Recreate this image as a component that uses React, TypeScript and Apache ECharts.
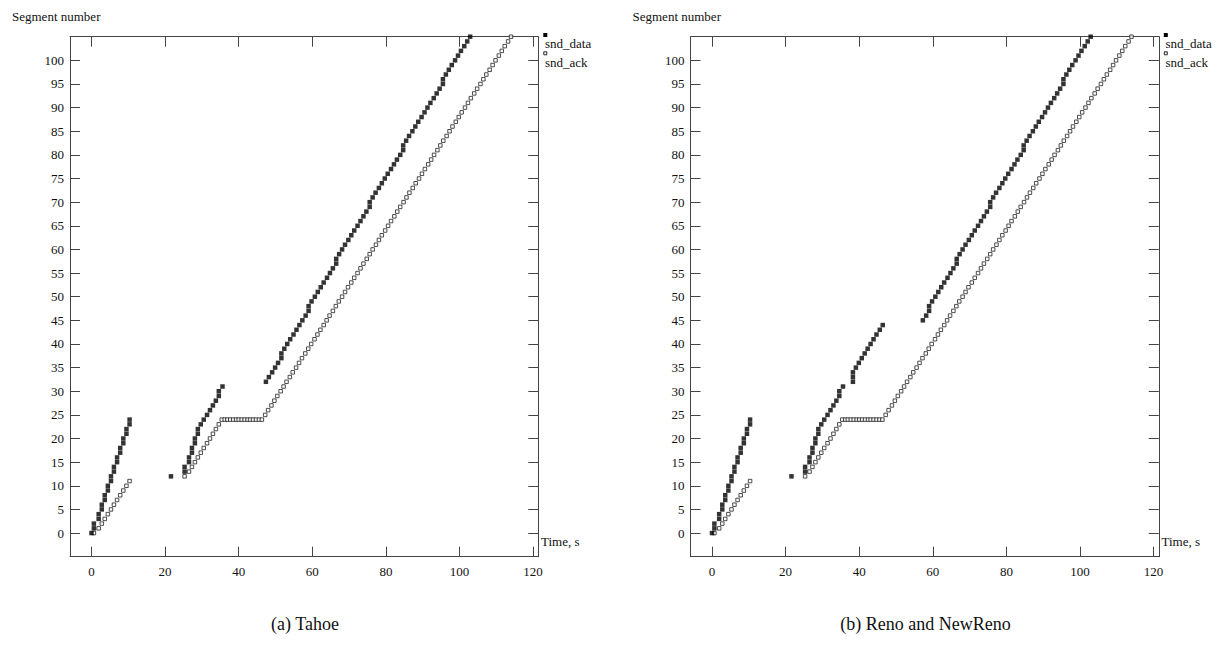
import React, { useEffect, useRef } from "react";
import * as echarts from "echarts";

// ---------- data ----------
const X_TICKS = [0, 20, 40, 60, 80, 100, 120];
const Y_TICKS = [0, 5, 10, 15, 20, 25, 30, 35, 40, 45, 50, 55, 60, 65, 70, 75, 80, 85, 90, 95, 100];

const PANEL_CAPTIONS = ["(a) Tahoe", "(b) Reno and NewReno"];
const SERIES_NAMES = ["snd_data", "snd_ack"];

// snd_data, common beginning (time s, segment)
const sndDataStart: [number, number][] = [
  [0, 0], [0.65, 1], [0.65, 2], [1.95, 3], [1.95, 4], [2.8, 5], [2.8, 6], [3.6, 7], [3.6, 8],
  [4.45, 9], [4.45, 10], [5.3, 11], [5.3, 12], [6.1, 13], [6.1, 14], [6.95, 15], [6.95, 16],
  [7.8, 17], [7.8, 18], [8.65, 19], [8.65, 20], [9.5, 21], [9.5, 22], [10.35, 23], [10.35, 24],
  [21.6, 12],
  [25.3, 13], [25.3, 14], [26.5, 15], [26.5, 16], [27.3, 17], [27.3, 18], [28.1, 19], [28.1, 20],
  [28.9, 21], [28.9, 22], [29.7, 23], [30.5, 24], [31.4, 25], [32.2, 26], [33.0, 27], [33.8, 28],
  [34.6, 29], [34.6, 30], [35.6, 31],
];

// Tahoe: segments 32..44 after the ack plateau
const tahoeDataMid: [number, number][] = [
  [47.4, 32], [48.2, 33], [49.1, 34], [49.9, 35], [50.7, 36], [51.6, 37], [51.6, 38], [52.4, 39],
  [53.2, 40], [54.0, 41], [54.9, 42], [55.7, 43], [56.5, 44],
];

// Reno / NewReno: segments 32..44 sent during the plateau
const renoDataMid: [number, number][] = [
  [38.3, 32], [38.3, 33], [38.3, 34], [39.1, 35], [39.9, 36], [40.7, 37], [41.5, 38], [42.3, 39],
  [43.1, 40], [43.9, 41], [44.7, 42], [45.6, 43], [46.4, 44],
];

// snd_data, common end (segments 45..105)
const sndDataEnd: [number, number][] = [
  [57.3, 45], [58.2, 46], [59.0, 47], [59.0, 48], [59.8, 49], [60.7, 50], [61.5, 51], [62.3, 52],
  [63.1, 53], [64.0, 54], [64.8, 55], [65.6, 56], [66.5, 57], [66.5, 58], [67.3, 59], [68.1, 60],
  [68.9, 61], [69.8, 62], [70.6, 63], [71.4, 64], [72.3, 65], [73.1, 66], [73.9, 67], [74.7, 68],
  [75.6, 69], [75.6, 70], [76.4, 71], [77.2, 72], [78.1, 73], [78.9, 74], [79.7, 75], [80.5, 76],
  [81.4, 77], [82.2, 78], [83.0, 79], [83.9, 80], [84.7, 81], [84.7, 82], [85.5, 83], [86.3, 84],
  [87.2, 85], [88.0, 86], [88.8, 87], [89.7, 88], [90.5, 89], [91.3, 90], [92.1, 91], [93.0, 92],
  [93.8, 93], [94.6, 94], [95.5, 95], [95.5, 96], [96.3, 97], [97.1, 98], [97.9, 99], [98.8, 100],
  [99.6, 101], [100.4, 102], [101.3, 103], [102.1, 104], [102.9, 105],
];

// snd_ack (same in both panels)
const sndAck: [number, number][] = [
  [0.65, 0], [1.95, 1], [2.8, 2], [3.6, 3], [4.45, 4], [5.3, 5], [6.1, 6], [6.95, 7], [7.8, 8],
  [8.65, 9], [9.5, 10], [10.35, 11],
  [25.3, 12], [26.5, 13], [27.3, 14], [28.1, 15], [28.9, 16], [29.7, 17], [30.5, 18], [31.4, 19],
  [32.2, 20], [33.0, 21], [33.8, 22], [34.6, 23], [35.4, 24],
  [36.2, 24], [36.9, 24], [37.7, 24], [38.5, 24], [39.3, 24], [40.0, 24], [40.8, 24], [41.6, 24],
  [42.4, 24], [43.1, 24], [43.9, 24], [44.7, 24], [45.5, 24], [46.3, 24],
  [47.2, 25], [48.0, 26], [48.9, 27], [49.7, 28], [50.5, 29], [51.4, 30], [52.2, 31], [53.0, 32],
  [53.9, 33], [54.7, 34], [55.6, 35], [56.4, 36], [57.2, 37], [58.1, 38], [58.9, 39], [59.7, 40],
  [60.6, 41], [61.4, 42], [62.2, 43], [63.1, 44], [63.9, 45], [64.7, 46], [65.6, 47], [66.4, 48],
  [67.2, 49], [68.1, 50], [68.9, 51], [69.7, 52], [70.6, 53], [71.4, 54], [72.3, 55], [73.1, 56],
  [73.9, 57], [74.8, 58], [75.6, 59], [76.4, 60], [77.3, 61], [78.1, 62], [78.9, 63], [79.8, 64],
  [80.6, 65], [81.4, 66], [82.3, 67], [83.1, 68], [83.9, 69], [84.8, 70], [85.6, 71], [86.4, 72],
  [87.3, 73], [88.1, 74], [89.0, 75], [89.8, 76], [90.6, 77], [91.5, 78], [92.3, 79], [93.1, 80],
  [94.0, 81], [94.8, 82], [95.6, 83], [96.5, 84], [97.3, 85], [98.1, 86], [99.0, 87], [99.8, 88],
  [100.6, 89], [101.5, 90], [102.3, 91], [103.1, 92], [104.0, 93], [104.8, 94], [105.7, 95],
  [106.5, 96], [107.3, 97], [108.2, 98], [109.0, 99], [109.8, 100], [110.7, 101], [111.5, 102],
  [112.3, 103], [113.2, 104], [114.0, 105],
];

const tahoeData = [...sndDataStart, ...tahoeDataMid, ...sndDataEnd];
const renoData = [...sndDataStart, ...renoDataMid, ...sndDataEnd];

// ---------- layout ----------
const SERIF = '"Liberation Serif", "Times New Roman", Times, serif';
const AXIS_COLOR = "#444";
const TEXT_COLOR = "#111";
const PANEL_OFFSET = 620.5;
const GRID_LEFT = 70;
const GRID_TOP = 36.7;
const GRID_W = 468.3;
const GRID_H = 520;
const X_MIN = -5.84;
const X_MAX = 121.42;
const Y_MIN = -5;
const Y_MAX = 105;

function xAxes(gi: number) {
  const common = {
    gridIndex: gi,
    type: "value" as const,
    min: X_MIN,
    max: X_MAX,
    splitLine: { show: false },
    axisLine: { show: true, onZero: false, lineStyle: { color: AXIS_COLOR, width: 1 } },
    axisTick: { show: true, inside: true, length: 10, customValues: X_TICKS, lineStyle: { color: AXIS_COLOR, width: 1 } },
  };
  return [
    {
      ...common,
      position: "bottom",
      axisLabel: { show: true, customValues: X_TICKS, fontFamily: SERIF, fontSize: 13, color: TEXT_COLOR, margin: 8 },
    },
    { ...common, position: "top", axisLabel: { show: false } },
  ];
}

function yAxes(gi: number) {
  const common = {
    gridIndex: gi,
    type: "value" as const,
    min: Y_MIN,
    max: Y_MAX,
    splitLine: { show: false },
    axisLine: { show: true, onZero: false, lineStyle: { color: AXIS_COLOR, width: 1 } },
    axisTick: { show: true, inside: true, length: 10, customValues: Y_TICKS, lineStyle: { color: AXIS_COLOR, width: 1 } },
  };
  return [
    {
      ...common,
      position: "left",
      axisLabel: { show: true, customValues: Y_TICKS, fontFamily: SERIF, fontSize: 13, color: TEXT_COLOR, margin: 6 },
    },
    { ...common, position: "right", axisLabel: { show: false } },
  ];
}

function panelGraphics(i: number) {
  const dx = i * PANEL_OFFSET;
  const font = `13px ${SERIF}`;
  return [
    { type: "text", x: 12 + dx, y: 16, style: { text: "Segment number", font, fill: TEXT_COLOR, textVerticalAlign: "middle" } },
    { type: "text", x: 541 + dx, y: 541, style: { text: "Time, s", font, fill: TEXT_COLOR, textVerticalAlign: "middle" } },
    { type: "rect", shape: { x: 543.3 + dx, y: 33, width: 4, height: 4 }, style: { fill: "#000" } },
    { type: "text", x: 545 + dx, y: 43, style: { text: SERIES_NAMES[0], font, fill: TEXT_COLOR, textVerticalAlign: "middle" } },
    { type: "rect", shape: { x: 543.8 + dx, y: 51.8, width: 3, height: 3 }, style: { fill: "#fff", stroke: "#222", lineWidth: 1 } },
    { type: "text", x: 545 + dx, y: 62.5, style: { text: SERIES_NAMES[1], font, fill: TEXT_COLOR, textVerticalAlign: "middle" } },
    { type: "text", x: 305 + dx, y: 624, style: { text: PANEL_CAPTIONS[i], font: `18px ${SERIF}`, fill: TEXT_COLOR, textAlign: "center", textVerticalAlign: "middle" } },
  ];
}

function panelSeries(i: number, data: [number, number][]) {
  return [
    {
      type: "scatter",
      name: SERIES_NAMES[1],
      xAxisIndex: i * 2,
      yAxisIndex: i * 2,
      symbol: "rect",
      symbolSize: 3.5,
      itemStyle: { color: "#fff", borderColor: "#222", borderWidth: 1 },
      data: sndAck,
      z: 2,
    },
    {
      type: "scatter",
      name: SERIES_NAMES[0],
      xAxisIndex: i * 2,
      yAxisIndex: i * 2,
      symbol: "rect",
      symbolSize: 4.5,
      itemStyle: { color: "#000" },
      data,
      z: 3,
    },
  ];
}

export default function App() {
  const ref = useRef<HTMLDivElement>(null);
  useEffect(() => {
    if (!ref.current) return;
    const chart = echarts.init(ref.current, undefined, { renderer: "svg" });
    chart.setOption({
      animation: false,
      backgroundColor: "#fff",
      grid: [
        { left: GRID_LEFT, top: GRID_TOP, width: GRID_W, height: GRID_H },
        { left: GRID_LEFT + PANEL_OFFSET, top: GRID_TOP, width: GRID_W, height: GRID_H },
      ],
      xAxis: [...xAxes(0), ...xAxes(1)],
      yAxis: [...yAxes(0), ...yAxes(1)],
      series: [...panelSeries(0, tahoeData), ...panelSeries(1, renoData)],
      graphic: [...panelGraphics(0), ...panelGraphics(1)],
    });
    return () => chart.dispose();
  }, []);
  return (
    <div
      ref={ref}
      style={{ position: "absolute", left: 0, top: 0, width: 1227, height: 654, background: "#fff" }}
    />
  );
}
